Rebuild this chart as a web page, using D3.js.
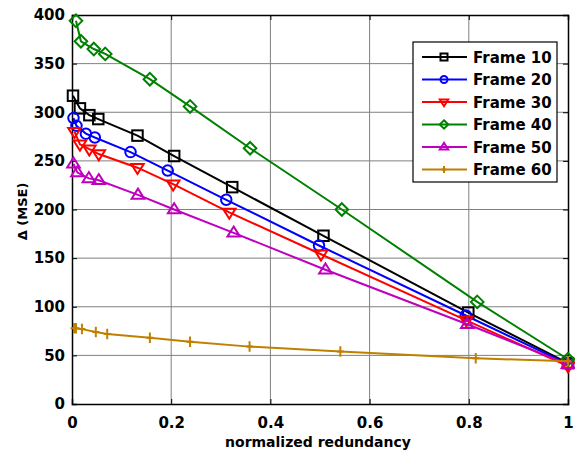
<!DOCTYPE html>
<meta charset="utf-8">
<head>
<script src="https://cdn.jsdelivr.net/npm/d3@7"></script>
<style>
	body { margin: 0; background: #fff; }
	text { font-family: "DejaVu Sans", sans-serif; font-weight: bold; }
</style>
</head>
<body>
<div id="chart"></div>
<script>

// data
const frameNames = ['Frame 10', 'Frame 20', 'Frame 30', 'Frame 40', 'Frame 50', 'Frame 60']

const x10 = [0.002, 0.016, 0.035, 0.053, 0.132, 0.206, 0.323, 0.507, 0.799, 1]
const y10 = [317, 304, 297, 293, 276, 255, 223, 173, 94, 42]

const x20 = [0.003, 0.009, 0.028, 0.046, 0.118, 0.193, 0.311, 0.498, 0.794, 1]
const y20 = [294, 286, 278, 274, 259, 240, 210, 163, 91, 41]

const x30 = [0.005, 0.016, 0.035, 0.054, 0.132, 0.204, 0.317, 0.502, 0.795, 1]
const y30 = [280, 267, 262, 257, 243, 226, 197, 154, 86, 39]

const x40 = [0.008, 0.018, 0.044, 0.067, 0.157, 0.238, 0.359, 0.544, 0.817, 1]
const y40 = [394, 373, 365, 360, 334, 306, 263, 200, 105, 46]

const x50 = [0.003, 0.011, 0.034, 0.054, 0.133, 0.206, 0.326, 0.511, 0.797, 1]
const y50 = [247, 238, 232, 230, 215, 200, 176, 138, 82, 41]

const x60 = [0.004, 0.008, 0.020, 0.048, 0.071, 0.157, 0.238, 0.358, 0.541, 0.814, 1]
const y60 = [78, 78, 77, 74, 72, 68, 64, 59, 54, 47, 44]

const xTicks = [0, 0.2, 0.4, 0.6, 0.8, 1]
const yTicks = [0, 50, 100, 150, 200, 250, 300, 350, 400]

const colors = ['#000000', '#0000ff', '#ff0000', '#008000', '#bf00bf', '#bf8000']
const markers = ['square', 'circle', 'down', 'diamond', 'up', 'plus']

const series = frameNames.map((name, i) => {
	const xs = [x10, x20, x30, x40, x50, x60][i]
	const ys = [y10, y20, y30, y40, y50, y60][i]
	return { name, color: colors[i], marker: markers[i], points: xs.map((x, j) => ({x, y: ys[j]})) }
})

////////////////////////////////////
// SETUP
////////////////////////////////////

const W = 575, H = 452
const margin = {top: 15, right: 7, bottom: 48, left: 72}
const width = W - margin.left - margin.right,
	height = H - margin.top - margin.bottom

const svg = d3.select('#chart').append('svg')
	.attr('width', W)
	.attr('height', H)

const g = svg.append('g')
	.attr('transform', `translate(${margin.left},${margin.top})`)

const xScale = d3.scaleLinear().domain([0, 1]).range([0, width])
const yScale = d3.scaleLinear().domain([0, 400]).range([height, 0])

// grid
g.append('g').selectAll('line')
	.data(xTicks.slice(1, -1))
	.enter().append('line')
	.attr('x1', d => xScale(d)).attr('x2', d => xScale(d))
	.attr('y1', 0).attr('y2', height)
	.attr('stroke', '#808080').attr('stroke-width', 1)

g.append('g').selectAll('line')
	.data(yTicks.slice(1, -1))
	.enter().append('line')
	.attr('y1', d => yScale(d)).attr('y2', d => yScale(d))
	.attr('x1', 0).attr('x2', width)
	.attr('stroke', '#808080').attr('stroke-width', 1)

// axes (ticks point inward, box on)
const xAxis = g.append('g')
	.attr('transform', `translate(0,${height})`)
	.call(d3.axisBottom(xScale).tickValues(xTicks).tickFormat(d3.format('')).tickSize(-5).tickPadding(13))
const yAxis = g.append('g')
	.call(d3.axisLeft(yScale).tickValues(yTicks).tickSize(-5).tickPadding(7))
g.append('g')
	.call(d3.axisTop(xScale).tickValues(xTicks).tickFormat('').tickSize(-5))
g.append('g')
	.attr('transform', `translate(${width},0)`)
	.call(d3.axisRight(yScale).tickValues(yTicks).tickFormat('').tickSize(-5))

g.selectAll('.domain').attr('stroke', '#000').attr('stroke-width', 1.5)
g.selectAll('.tick line').attr('stroke', '#000')
g.selectAll('.tick text').attr('font-size', 15).attr('fill', '#000')
	.style('font-family', '"DejaVu Sans", sans-serif').style('font-weight', 'bold')

// axis labels
svg.append('text')
	.attr('x', margin.left + width / 2 - 2)
	.attr('y', 447)
	.attr('text-anchor', 'middle')
	.attr('font-size', 14)
	.text('normalized redundancy')

svg.append('text')
	.attr('transform', `translate(27,${margin.top + height / 2 + 2}) rotate(-90)`)
	.attr('text-anchor', 'middle')
	.attr('font-size', 13)
	.text('Δ (MSE)')

////////////////////////////////////
// MARKERS
////////////////////////////////////

function drawMarker(sel, type, s) {
	if (type === 'circle') {
		sel.append('circle').attr('r', s * 0.5)
	} else if (type === 'square') {
		sel.append('rect').attr('x', -s / 2).attr('y', -s / 2).attr('width', s).attr('height', s)
	} else if (type === 'diamond') {
		const r = s * 0.6
		sel.append('path').attr('d', `M0,${-r}L${r},0L0,${r}L${-r},0Z`)
	} else if (type === 'up') {
		const r = s * 0.6
		sel.append('path').attr('d', `M0,${-r}L${r},${r * 0.6}L${-r},${r * 0.6}Z`)
	} else if (type === 'down') {
		const r = s * 0.6
		sel.append('path').attr('d', `M0,${r}L${r},${-r * 0.6}L${-r},${-r * 0.6}Z`)
	} else if (type === 'plus') {
		sel.append('path').attr('d', `M0,${-s / 2}V${s / 2}M${-s / 3},0H${s / 3}`)
	}
}

const line = d3.line().x(d => xScale(d.x)).y(d => yScale(d.y))

const seriesG = g.selectAll('.series')
	.data(series)
	.enter().append('g')
	.attr('class', 'series')

seriesG.append('path')
	.attr('d', d => line(d.points))
	.attr('fill', 'none')
	.attr('stroke', d => d.color)
	.attr('stroke-width', 2)

seriesG.each(function(d) {
	d3.select(this).selectAll('.mk')
		.data(d.points)
		.enter().append('g')
		.attr('class', 'mk')
		.attr('transform', p => `translate(${xScale(p.x)},${yScale(p.y)})`)
		.each(function() { drawMarker(d3.select(this), d.marker, 10.5) })
		.attr('fill', 'none')
		.attr('stroke', d.color)
		.attr('stroke-width', 2)
})

////////////////////////////////////
// LEGEND
////////////////////////////////////

const legend = svg.append('g').attr('transform', 'translate(413,42)')

legend.append('rect')
	.attr('width', 144).attr('height', 140)
	.attr('fill', '#fff').attr('stroke', '#000').attr('stroke-width', 1.2)

const items = legend.selectAll('.item')
	.data(series)
	.enter().append('g')
	.attr('class', 'item')
	.attr('transform', (d, i) => `translate(0,${15 + i * 22.5})`)

items.append('line')
	.attr('x1', 9).attr('x2', 54)
	.attr('stroke', d => d.color).attr('stroke-width', 2)

items.append('g')
	.attr('transform', 'translate(31,0)')
	.each(function(d) { drawMarker(d3.select(this), d.marker, 7) })
	.attr('fill', 'none')
	.attr('stroke', d => d.color)
	.attr('stroke-width', 2)

items.append('text')
	.attr('x', 60).attr('y', 5.5)
	.attr('font-size', 15)
	.text(d => d.name)

</script>
</body>
